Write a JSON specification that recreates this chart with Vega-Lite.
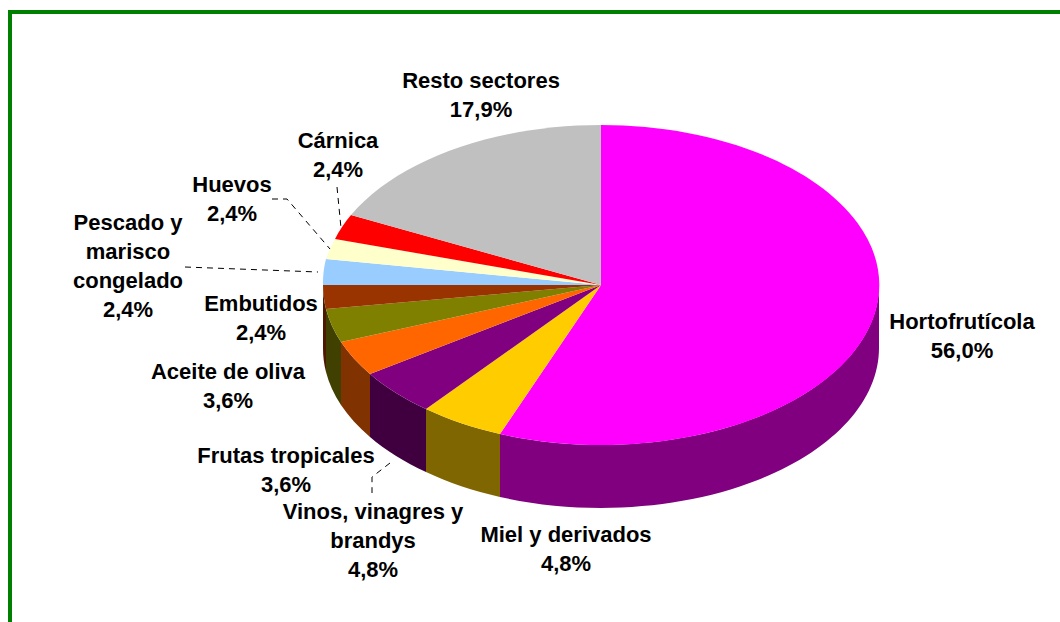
{
"$schema":"https://vega.github.io/schema/vega-lite/v6.json",
"width":1060,"height":622,
"autosize":{"type":"none"},
"padding":0,
"background":"white",
"config":{"view":{"stroke":null},"axis":{"disable":true}},
"datasets":{
"frame":[
{"edge":"top","fx":8,"fx2":1060,"fy":12,"fy2":12},
{"edge":"left","fx":10,"fx2":10,"fy":10,"fy2":622}
],
"slices":[
{"sector":"Hortofrutícola","pct":56.0},
{"sector":"Miel y derivados","pct":4.8},
{"sector":"Vinos, vinagres y brandys","pct":4.8},
{"sector":"Frutas tropicales","pct":3.6},
{"sector":"Aceite de oliva","pct":3.6},
{"sector":"Embutidos","pct":2.4},
{"sector":"Pescado y marisco congelado","pct":2.4},
{"sector":"Huevos","pct":2.4},
{"sector":"Cárnica","pct":2.4},
{"sector":"Resto sectores","pct":17.9}
],
"labels":[
{"sector":"Hortofrutícola","label":"Hortofrutícola\n56,0%","lx":962,"ly":322},
{"sector":"Miel y derivados","label":"Miel y derivados\n4,8%","lx":566,"ly":535},
{"sector":"Vinos, vinagres y brandys","label":"Vinos, vinagres y\nbrandys\n4,8%","lx":373,"ly":512},
{"sector":"Frutas tropicales","label":"Frutas tropicales\n3,6%","lx":286,"ly":456},
{"sector":"Aceite de oliva","label":"Aceite de oliva\n3,6%","lx":228,"ly":372},
{"sector":"Embutidos","label":"Embutidos\n2,4%","lx":261,"ly":304},
{"sector":"Pescado y marisco congelado","label":"Pescado y\nmarisco\ncongelado\n2,4%","lx":128,"ly":223},
{"sector":"Huevos","label":"Huevos\n2,4%","lx":232,"ly":185},
{"sector":"Cárnica","label":"Cárnica\n2,4%","lx":338,"ly":141},
{"sector":"Resto sectores","label":"Resto sectores\n17,9%","lx":481,"ly":81}
],
"leaders":[
{"sector":"Cárnica","step":1,"lx":337,"ly":187},
{"sector":"Cárnica","step":2,"lx":341,"ly":228},
{"sector":"Huevos","step":1,"lx":272,"ly":199},
{"sector":"Huevos","step":2,"lx":287,"ly":199},
{"sector":"Huevos","step":3,"lx":330,"ly":249},
{"sector":"Pescado y marisco congelado","step":1,"lx":185,"ly":267},
{"sector":"Pescado y marisco congelado","step":2,"lx":318,"ly":272},
{"sector":"Vinos, vinagres y brandys","step":1,"lx":390,"ly":463},
{"sector":"Vinos, vinagres y brandys","step":2,"lx":372,"ly":477},
{"sector":"Vinos, vinagres y brandys","step":3,"lx":372,"ly":493}
]
},
"layer":[
{"data":{"name":"frame"},
 "mark":{"type":"rule","color":"#008000","strokeWidth":4},
 "encoding":{"x":{"field":"fx","type":"quantitative","scale":{"domain":[0,1060],"nice":false,"zero":false}},"x2":{"field":"fx2"},"y":{"field":"fy","type":"quantitative","scale":{"domain":[622,0],"nice":false,"zero":false}},"y2":{"field":"fy2"}}},
{"data":{"name":"slices"},
 "transform":[{"filter":"indexof(['Hortofrutícola','Miel y derivados','Vinos, vinagres y brandys','Frutas tropicales','Aceite de oliva','Embutidos'],datum.sector)>=0"}],
 "mark":{"type":"point","filled":true,"opacity":1,"size":4,"strokeWidth":0},
 "encoding":{
  "x":{"datum":601,"type":"quantitative"},"y":{"datum":285,"type":"quantitative"},
  "color":{"field":"sector","type":"nominal","legend":null,"scale":{"domain":["Hortofrutícola","Miel y derivados","Vinos, vinagres y brandys","Frutas tropicales","Aceite de oliva","Embutidos"],"range":["#800080","#806600","#400040","#803300","#404000","#4d1a00"]}},
  "shape":{"field":"sector","type":"nominal","legend":null,"scale":{"domain":["Hortofrutícola","Miel y derivados","Vinos, vinagres y brandys","Frutas tropicales","Aceite de oliva","Embutidos"],"range":[
   "M278,0A278,160 0 0 1 -101,149L-101,212A278,160 0 0 0 278,63Z",
   "M-101,149A278,160 0 0 1 -175,124L-175,187A278,160 0 0 0 -101,212Z",
   "M-175,124A278,160 0 0 1 -231,89L-231,152A278,160 0 0 0 -175,187Z",
   "M-231,89A278,160 0 0 1 -260,57L-260,120A278,160 0 0 0 -231,152Z",
   "M-260,57A278,160 0 0 1 -275,24L-275,87A278,160 0 0 0 -260,120Z",
   "M-275,24A278,160 0 0 1 -278,0L-278,63A278,160 0 0 0 -275,87Z"
  ]}}
 }},
{"data":{"name":"slices"},
 "mark":{"type":"point","filled":true,"opacity":1,"size":4,"strokeWidth":0},
 "encoding":{
  "x":{"datum":601,"type":"quantitative"},"y":{"datum":285,"type":"quantitative"},
  "color":{"field":"sector","type":"nominal","legend":null,"scale":{"domain":["Hortofrutícola","Miel y derivados","Vinos, vinagres y brandys","Frutas tropicales","Aceite de oliva","Embutidos","Pescado y marisco congelado","Huevos","Cárnica","Resto sectores"],"range":["#FF00FF","#FFCC00","#800080","#FF6600","#808000","#993300","#99CCFF","#FFFFCC","#FF0000","#C0C0C0"]}},
  "shape":{"field":"sector","type":"nominal","legend":null,"scale":{"domain":["Hortofrutícola","Miel y derivados","Vinos, vinagres y brandys","Frutas tropicales","Aceite de oliva","Embutidos","Pescado y marisco congelado","Huevos","Cárnica","Resto sectores"],"range":[
   "M0,0L0,-160A278,160 0 1 1 -101,149Z",
   "M0,0L-101,149A278,160 0 0 1 -175,124Z",
   "M0,0L-175,124A278,160 0 0 1 -231,89Z",
   "M0,0L-231,89A278,160 0 0 1 -260,57Z",
   "M0,0L-260,57A278,160 0 0 1 -275,24Z",
   "M0,0L-275,24A278,160 0 0 1 -278,0Z",
   "M0,0L-278,0A278,160 0 0 1 -275,-26Z",
   "M0,0L-275,-26A278,160 0 0 1 -266,-46Z",
   "M0,0L-266,-46A278,160 0 0 1 -250,-70Z",
   "M0,0L-250,-70A278,160 0 0 1 0,-160Z"
  ]}}
 }},
{"data":{"name":"leaders"},
 "mark":{"type":"line","color":"#000000","strokeWidth":1,"strokeDash":[6,5]},
 "encoding":{"x":{"field":"lx","type":"quantitative"},"y":{"field":"ly","type":"quantitative"},"detail":{"field":"sector"},"order":{"field":"step"}}},
{"data":{"name":"labels"},
 "mark":{"type":"text","font":"Liberation Sans","fontWeight":"bold","fontSize":22,"lineBreak":"\n","lineHeight":29,"align":"center","baseline":"middle","color":"#000000"},
 "encoding":{"x":{"field":"lx","type":"quantitative"},"y":{"field":"ly","type":"quantitative"},"text":{"field":"label"}}}
],
"resolve":{"scale":{"color":"independent","shape":"independent"}}
}
